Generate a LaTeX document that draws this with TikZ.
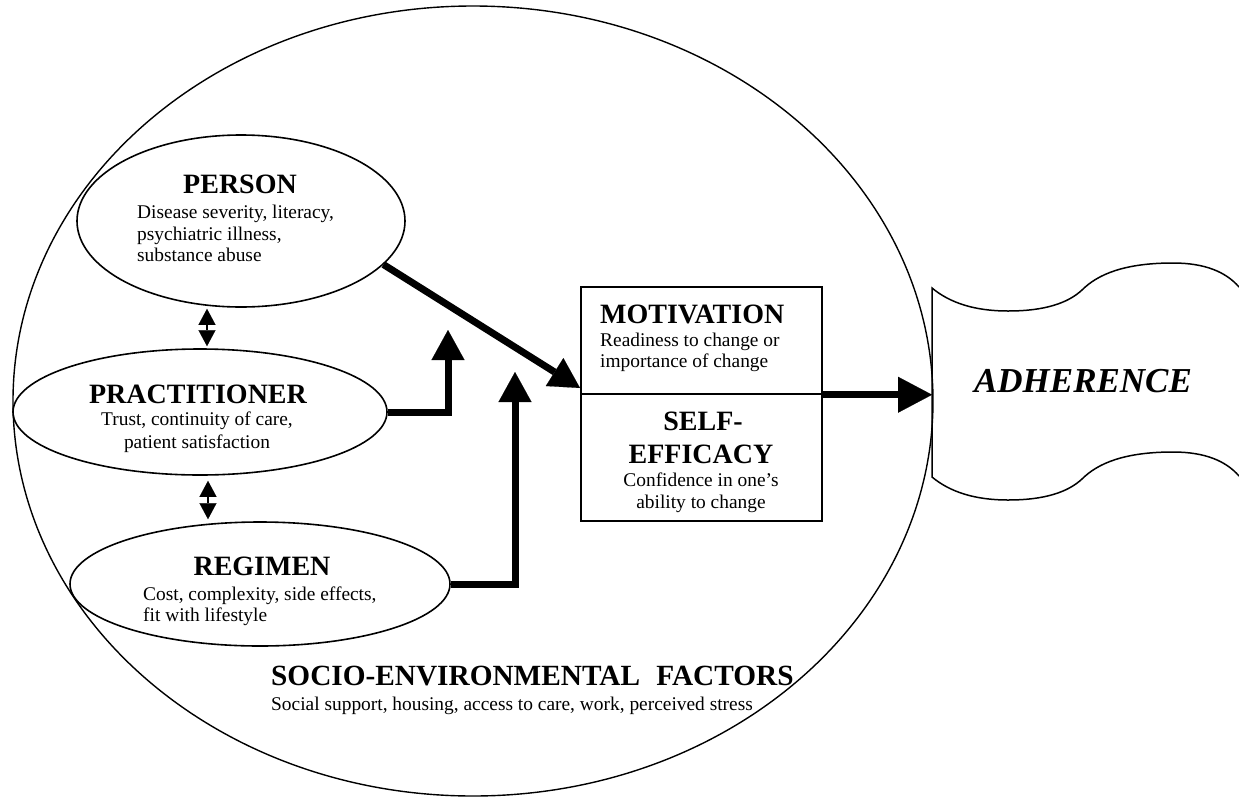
\documentclass[tikz,border=0pt]{standalone}
\usepackage{fontspec}
\setmainfont{Liberation Serif}
\usetikzlibrary{arrows.meta,shapes.geometric,calc}
\begin{document}
\begin{tikzpicture}[x=1pt,y=1pt,
  oval/.style={draw, line width=1.6pt, ellipse, inner sep=0pt},
  head/.style={font=\fontsize{28}{30}\selectfont\bfseries, inner sep=0pt},
  body/.style={font=\fontsize{19.4}{21.5}\selectfont, inner sep=0pt},
  bigarr/.style={line width=7pt, -{Triangle[length=30pt,width=33pt,line width=0.1pt]}},
  dblarr/.style={line width=2.2pt, {Triangle[length=16pt,width=17pt,line width=0.1pt]}-{Triangle[length=16pt,width=17pt,line width=0.1pt]}},
  boxpart/.style={draw, line width=1.5pt, minimum width=241pt, inner sep=0pt}
]
\useasboundingbox (0,0) rectangle (1239,-798);
\fill[white] (0,0) rectangle (1239,-798);

% outer socio-environmental ellipse
\node[oval, line width=1.4pt, minimum width=920pt, minimum height=790pt] (socio) at (473,-401) {};

% inner ellipses
\node[oval, minimum width=328pt, minimum height=172pt] (person) at (241,-221) {};
\node[oval, minimum width=374pt, minimum height=126pt] (prac) at (200,-412) {};
\node[oval, minimum width=380pt, minimum height=124pt] (reg) at (260,-584) {};

% box
\node[boxpart, minimum height=107pt] (motiv) at (701.5,-340.5) {};
\node[boxpart, minimum height=127pt] (selfeff) at (701.5,-457.5) {};

% banner
\draw[line width=1.5pt] (1239,-287) .. controls (1226,-272) and (1205,-263) .. (1173,-263)
  .. controls (1125,-263) and (1098,-274) .. (1082,-290)
  .. controls (1068,-303) and (1045,-311) .. (1008,-311)
  .. controls (975,-311) and (950,-303) .. (932,-288)
  -- (932,-477)
  .. controls (950,-492) and (975,-500) .. (1008,-500)
  .. controls (1045,-500) and (1068,-492) .. (1082,-479)
  .. controls (1098,-463) and (1125,-452) .. (1173,-452)
  .. controls (1205,-452) and (1226,-461) .. (1239,-476);
\coordinate (adhtip) at (932,-393);

% texts: person
\node[head, anchor=base] (tperson) at (240,-193) {PERSON};
\node[body, anchor=base west] (tp1) at (137,-218) {Disease severity, literacy,};
\node[body, anchor=base west] (tp2) at (137,-240) {psychiatric illness,};
\node[body, anchor=base west] (tp3) at (137,-261) {substance abuse};

% practitioner
\node[head, anchor=base] (tprac) at (198,-403) {PRACTITIONER};
\node[body, anchor=base] (tr1) at (197,-425) {Trust, continuity of care,};
\node[body, anchor=base] (tr2) at (197,-448) {patient satisfaction};

% regimen
\node[head, anchor=base] (treg) at (262,-575) {REGIMEN};
\node[body, anchor=base west] (tg1) at (143,-600) {Cost, complexity, side effects,};
\node[body, anchor=base west] (tg2) at (143,-621) {fit with lifestyle};

% motivation
\node[head, anchor=base west] (tmot) at (600,-323) {MOTIVATION};
\node[body, anchor=base west] (tm1) at (600,-346) {Readiness to change or};
\node[body, anchor=base west] (tm2) at (600,-367) {importance of change};

% self-efficacy
\node[head, anchor=base] (tse1) at (703,-430) {SELF-};
\node[head, anchor=base] (tse2) at (701,-463) {EFFICACY};
\node[body, anchor=base] (tse3) at (701,-486) {Confidence in one’s};
\node[body, anchor=base] (tse4) at (701,-508) {ability to change};

% adherence
\node[inner sep=0pt, font=\fontsize{35}{38}\selectfont\bfseries\itshape, anchor=base] (tadh) at (1083,-392) {ADHERENCE};

% socio-environmental
\node[inner sep=0pt, font=\fontsize{29.3}{32}\selectfont\bfseries, anchor=base west] (tsoc) at (271,-685) {SOCIO-ENVIRONMENTAL\hspace{0.55em}FACTORS};
\node[body, anchor=base west] (tsoc2) at (271,-710) {Social support, housing, access to care, work, perceived stress};

% connectors
\coordinate (d1) at (207,0);
\coordinate (d2) at (208,0);
\draw[dblarr] ([yshift=-1pt]person.south -| d1) -- ([yshift=2pt]prac.north -| d1);
\draw[dblarr] ([yshift=-5pt]prac.south -| d2) -- ([yshift=2pt]reg.north -| d2);

\coordinate (dtip) at (580,-388);
\coordinate (ptip) at (448,-330);
\coordinate (rtip) at (515,-372);
\draw[bigarr] (person.-17) -- (dtip);
\draw[bigarr] (prac.east) -| (ptip);
\draw[bigarr] (reg.east) -| (rtip);
\draw[bigarr, -{Triangle[length=34pt,width=36pt,line width=0.1pt]}] (motiv.south east) -- (motiv.south east -| adhtip);
\end{tikzpicture}
\end{document}
